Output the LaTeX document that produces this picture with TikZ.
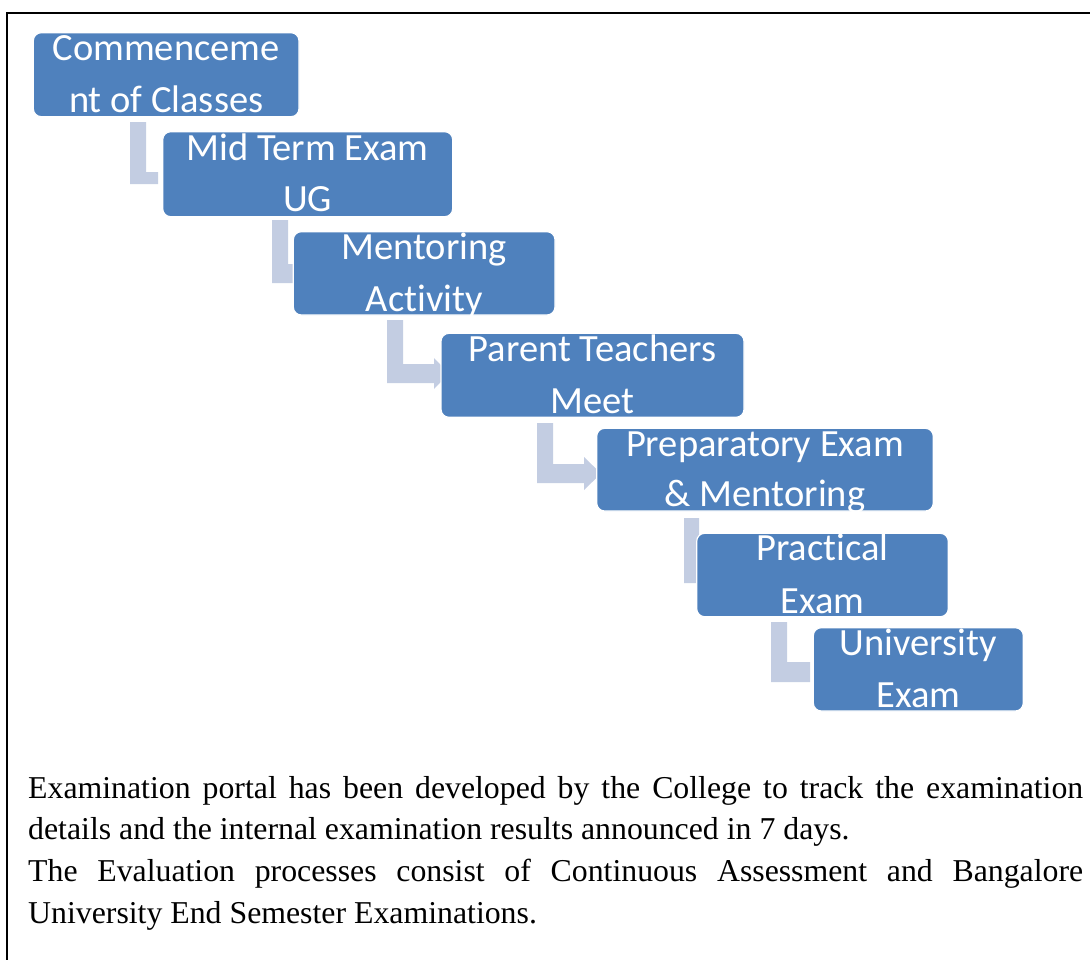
\documentclass[tikz,border=0pt]{standalone}
\usepackage{fontspec}
\setmainfont{Liberation Serif}
\newfontfamily\calib[Ligatures=NoCommon]{Carlito}
\definecolor{boxblue}{HTML}{4F81BD}
\definecolor{connblue}{RGB}{195,205,226}
\tikzset{
  stepbox/.style={draw=white, line width=1.2pt, fill=boxblue, rounded corners=8pt,
    inner sep=0pt, outer sep=0pt, anchor=north west},
  lbl/.style={text=white, font=\calib\fontsize{38.5}{46}\selectfont, inner sep=0pt, anchor=base},
  conn/.style={fill=connblue, draw=none},
  frame/.style={draw=black, line width=2pt}
}
\begin{document}
\begin{tikzpicture}[x=1pt,y=-1pt]
\useasboundingbox (0,0) rectangle (1090,959);
\draw[frame] (7,960) -- (7,13) -- (1091,13);

% step 1
\node[stepbox, minimum width=265.7pt, minimum height=84pt] (b1) at (33.3,32.7) {};
\node[lbl] (t1a) at (166.2,60) {Commenceme};
\node[lbl] (t1b) at (166.2,112.7) {nt of Classes};
\fill[conn] (130,122) -- (146,122) -- (146,172) -- (158,172) -- (158,184) -- (130,184) -- cycle;

% step 2
\node[stepbox, minimum width=290pt, minimum height=85pt] (b2) at (162.7,131.7) {};
\node[lbl] (t2a) at (307.7,160) {Mid Term Exam};
\node[lbl] (t2b) at (307.7,211.7) {UG};
\fill[conn] (272,220) -- (288,220) -- (288,264) -- (298,264) -- (298,283) -- (272,283) -- cycle;

% step 3
\node[stepbox, minimum width=261.7pt, minimum height=83.3pt] (b3) at (293.3,231.7) {};
\node[lbl] (t3a) at (424.2,259.7) {Mentoring};
\node[lbl] (t3b) at (424.2,311.7) {Activity};
\fill[conn] (387,320) -- (403,320) -- (403,364) -- (434,364) -- (434,358) -- (449,373.5)
  -- (434,389) -- (434,383) -- (387,383) -- cycle;

% step 4
\node[stepbox, minimum width=303pt, minimum height=84pt] (b4) at (441,333.3) {};
\node[lbl] (t4a) at (592.5,361.3) {Parent Teachers};
\node[lbl] (t4b) at (592.5,413.3) {Meet};
\fill[conn] (537,423) -- (553,423) -- (553,464) -- (584,464) -- (584,457) -- (601,473.5)
  -- (584,490) -- (584,483) -- (537,483) -- cycle;

% step 5
\node[stepbox, minimum width=336.6pt, minimum height=82.7pt] (b5) at (596.7,428.3) {};
\node[lbl] (t5a) at (765,456.3) {Preparatory Exam};
\node[lbl] (t5b) at (765,506) {\& Mentoring};
\fill[conn] (684,518) -- (699,518) -- (699,564) -- (706,564) -- (706,583) -- (684,583) -- cycle;

% step 6
\node[stepbox, minimum width=251.6pt, minimum height=83.4pt] (b6) at (696.7,533.3) {};
\node[lbl] (t6a) at (822.5,560.5) {Practical};
\node[lbl] (t6b) at (822.5,613.3) {Exam};
\fill[conn] (771,622) -- (787,622) -- (787,662) -- (810,662) -- (810,682) -- (771,682) -- cycle;

% step 7
\node[stepbox, minimum width=210pt, minimum height=83.3pt] (b7) at (813.3,627.7) {};
\node[lbl] (t7a) at (918.3,655.5) {University};
\node[lbl] (t7b) at (918.3,707.7) {Exam};

% paragraph
\node[inner sep=0pt, anchor=base west] (para) at (28,798) {\parbox[t]{1055pt}{\fontsize{31.8}{41.8}\selectfont
Examination portal has been developed by the College to track the examination\linebreak
details and the internal examination results announced in 7 days.\par
The Evaluation processes consist of Continuous Assessment and Bangalore\linebreak
University End Semester Examinations.}};
\end{tikzpicture}
\end{document}
